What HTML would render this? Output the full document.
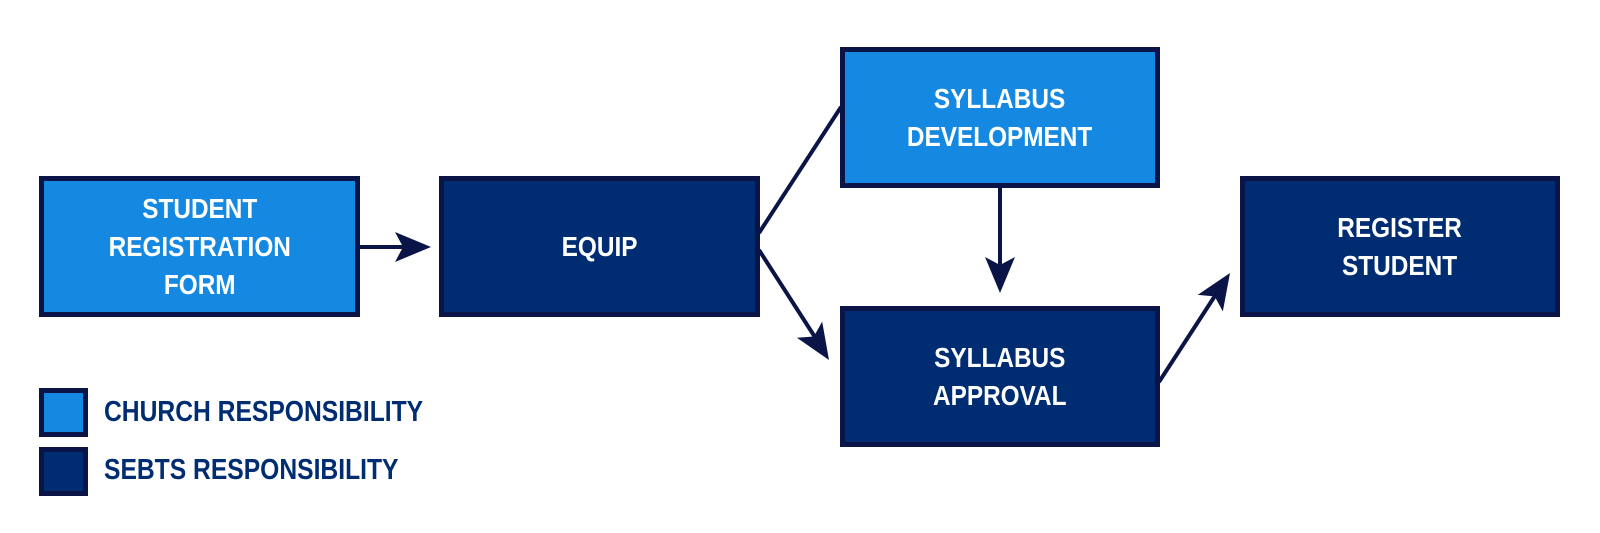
<!DOCTYPE html>
<html><head><meta charset="utf-8"><style>
html,body{margin:0;padding:0;background:#fff;}
body{width:1600px;height:533px;position:relative;overflow:hidden;font-family:"Liberation Sans Narrow","Liberation Sans",sans-serif;}
.b{position:absolute;box-sizing:border-box;border:5px solid #0b1446;color:#fff;font-weight:bold;font-size:28px;line-height:38px;text-align:center;display:flex;align-items:center;justify-content:center;}
.b span{display:inline-block;transform:scaleX(0.87);}
.l{background:#1589e2;}
.d{background:#002d72;}
.lg{position:absolute;color:#002d72;font-weight:bold;font-size:29px;transform:scaleX(0.85);transform-origin:0 0;white-space:nowrap;}
svg{position:absolute;left:0;top:0;}
</style></head><body>
<div class="b l" style="left:39px;top:176px;width:321px;height:141px;"><span>STUDENT<br>REGISTRATION<br>FORM</span></div>
<div class="b d" style="left:439px;top:176px;width:321px;height:141px;"><span>EQUIP</span></div>
<div class="b l" style="left:840px;top:47px;width:320px;height:141px;"><span>SYLLABUS<br>DEVELOPMENT</span></div>
<div class="b d" style="left:840px;top:306px;width:320px;height:141px;"><span>SYLLABUS<br>APPROVAL</span></div>
<div class="b d" style="left:1240px;top:176px;width:320px;height:141px;"><span>REGISTER<br>STUDENT</span></div>
<div class="b l" style="left:39px;top:388px;width:49px;height:49px;"></div>
<div class="b d" style="left:39px;top:447px;width:49px;height:49px;"></div>
<div class="lg" style="left:104px;top:396px;">CHURCH RESPONSIBILITY</div>
<div class="lg" style="left:104px;top:454px;">SEBTS RESPONSIBILITY</div>
<svg width="1600" height="533">
<g stroke="#0b1446" stroke-width="4" fill="none">
<line x1="360" y1="247" x2="420" y2="247"/>
<line x1="759" y1="233" x2="841" y2="107"/>
<line x1="759" y1="250" x2="822" y2="348"/>
<line x1="1000" y1="188" x2="1000" y2="282"/>
<line x1="1159" y1="382" x2="1222" y2="285"/>
</g>
<g fill="#0b1446">
<polygon points="431,247 395,232 403,247 395,262"/>
<polygon points="1000,293 985,257 1000,265 1015,257"/>
<g transform="translate(829,360) rotate(57.3)"><polygon points="0,0 -36,-15 -28,0 -36,15"/></g>
<g transform="translate(1230,273) rotate(-56.8)"><polygon points="0,0 -36,-15 -28,0 -36,15"/></g>
</g>
</svg>
</body></html>
